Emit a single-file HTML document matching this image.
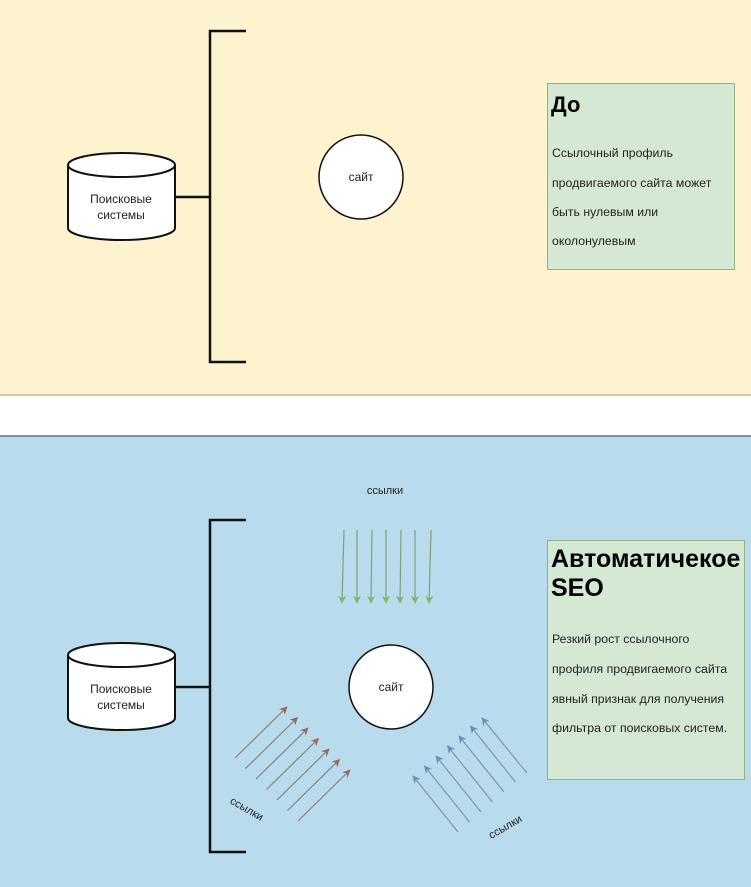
<!DOCTYPE html>
<html><head><meta charset="utf-8"><style>
html,body{margin:0;padding:0;background:#fff}
svg{display:block}
text{font-family:"Liberation Sans",sans-serif}
</style></head><body>
<svg width="751" height="887" viewBox="0 0 751 887" xmlns="http://www.w3.org/2000/svg">
<defs>
<marker id="mg" viewBox="0 0 10 10" refX="9" refY="5" markerWidth="8" markerHeight="8" markerUnits="userSpaceOnUse" orient="auto"><path d="M0,0 L10,5 L0,10 L3,5 z" fill="#82b366"/></marker>
<marker id="mr" viewBox="0 0 10 10" refX="9" refY="5" markerWidth="8" markerHeight="8" markerUnits="userSpaceOnUse" orient="auto"><path d="M0,0 L10,5 L0,10 L3,5 z" fill="#a0665a"/></marker>
<marker id="mb" viewBox="0 0 10 10" refX="9" refY="5" markerWidth="8" markerHeight="8" markerUnits="userSpaceOnUse" orient="auto"><path d="M0,0 L10,5 L0,10 L3,5 z" fill="#6c8ebf"/></marker>
</defs>
<rect x="0" y="0" width="751" height="395" fill="#fdf3cf"/>
<line x1="0" y1="395" x2="751" y2="395" stroke="#bdb8a0" stroke-width="1.5"/>
<rect x="0" y="436" width="751" height="451" fill="#b8dbed"/>
<line x1="0" y1="436" x2="751" y2="436" stroke="#5a6e7c" stroke-width="1.5"/>

<!-- top -->
<path d="M246,31 H210 V362 H246" fill="none" stroke="#111" stroke-width="2.5"/>
<line x1="175" y1="197" x2="210" y2="197" stroke="#111" stroke-width="2.5"/>
<path d="M68,165 V228 A53.5,12 0 0 0 175,228 V165" fill="#fff" stroke="#111" stroke-width="2"/>
<ellipse cx="121.5" cy="165" rx="53.5" ry="12" fill="#fff" stroke="#111" stroke-width="2"/>
<text x="121" y="203" font-size="12" text-anchor="middle" fill="#222">Поисковые</text>
<text x="121" y="219" font-size="12" text-anchor="middle" fill="#222">системы</text>
<circle cx="361" cy="177" r="42" fill="#fff" stroke="#111" stroke-width="1.5"/>
<text x="361" y="181" font-size="12" text-anchor="middle" fill="#222">сайт</text>
<rect x="547.5" y="83.5" width="187" height="186" fill="#d5e8d4" stroke="#9aae84" stroke-width="1"/>
<text x="551" y="112" font-size="22" font-weight="bold" fill="#000">До</text>
<g font-size="12.3" fill="#222">
<text x="552" y="157">Ссылочный профиль</text>
<text x="552" y="187">продвигаемого сайта может</text>
<text x="552" y="216">быть нулевым или</text>
<text x="552" y="245">околонулевым</text>
</g>

<!-- bottom -->
<path d="M246,520 H210 V852 H246" fill="none" stroke="#111" stroke-width="2.5"/>
<line x1="175" y1="687" x2="210" y2="687" stroke="#111" stroke-width="2.5"/>
<path d="M68,655 V718 A53.5,12 0 0 0 175,718 V655" fill="#fff" stroke="#111" stroke-width="2"/>
<ellipse cx="121.5" cy="655" rx="53.5" ry="12" fill="#fff" stroke="#111" stroke-width="2"/>
<text x="121" y="693" font-size="12" text-anchor="middle" fill="#222">Поисковые</text>
<text x="121" y="709" font-size="12" text-anchor="middle" fill="#222">системы</text>
<circle cx="391" cy="687" r="42" fill="#fff" stroke="#111" stroke-width="1.5"/>
<text x="391" y="691" font-size="12" text-anchor="middle" fill="#222">сайт</text>
<text x="385" y="494" font-size="11" text-anchor="middle" fill="#222">ссылки</text>
<g stroke="#7f9f78" stroke-width="1.2" marker-end="url(#mg)">
<line x1="344" y1="530" x2="342" y2="603"/>
<line x1="357" y1="530" x2="357" y2="603"/>
<line x1="372" y1="530" x2="371" y2="603"/>
<line x1="386" y1="530" x2="386" y2="603"/>
<line x1="401" y1="530" x2="400" y2="603"/>
<line x1="415" y1="530" x2="415" y2="603"/>
<line x1="431" y1="530" x2="429" y2="603"/>
</g>
<g stroke="#8a7f80" stroke-width="1.2" marker-end="url(#mr)">
<line x1="235" y1="758" x2="287" y2="707"/>
<line x1="245.5" y1="768.5" x2="297.5" y2="717.5"/>
<line x1="256" y1="779" x2="308" y2="728"/>
<line x1="266.5" y1="789.5" x2="318.5" y2="738.5"/>
<line x1="277" y1="800" x2="329" y2="749"/>
<line x1="287.5" y1="810.5" x2="339.5" y2="759.5"/>
<line x1="298" y1="821" x2="350" y2="770"/>
</g>
<g stroke="#7f95ad" stroke-width="1.2" marker-end="url(#mb)">
<line x1="458" y1="832" x2="413" y2="776"/>
<line x1="469.5" y1="822" x2="424.5" y2="766"/>
<line x1="481" y1="812" x2="436" y2="756"/>
<line x1="492.5" y1="802" x2="447.5" y2="746"/>
<line x1="504" y1="792" x2="459" y2="736"/>
<line x1="515.5" y1="782" x2="470.5" y2="726"/>
<line x1="527" y1="773" x2="482" y2="718"/>
</g>
<text x="0" y="0" font-size="11" fill="#222" text-anchor="middle" transform="translate(245,812) rotate(30)">ссылки</text>
<text x="0" y="0" font-size="11" fill="#222" text-anchor="middle" transform="translate(507,830) rotate(-30)">ссылки</text>

<rect x="547.5" y="540.5" width="197" height="239" fill="#d5e8d4" stroke="#9aae84" stroke-width="1"/>
<g font-size="25" font-weight="bold" fill="#000">
<text x="551" y="567">Автоматичекое</text>
<text x="551" y="596">SEO</text>
</g>
<g font-size="12.3" fill="#222">
<text x="552" y="643">Резкий рост ссылочного</text>
<text x="552" y="673">профиля продвигаемого сайта</text>
<text x="552" y="703">явный признак для получения</text>
<text x="552" y="732">фильтра от поисковых систем.</text>
</g>
</svg>
</body></html>
